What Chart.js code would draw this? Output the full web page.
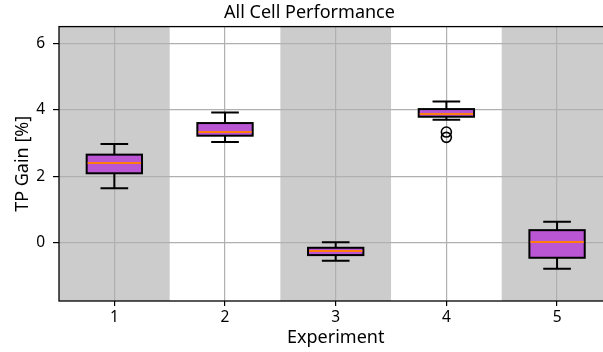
<!DOCTYPE html>
<html>
<head>
<meta charset="utf-8">
<script src="https://cdn.jsdelivr.net/npm/chart.js@4.4.0/dist/chart.umd.min.js"></script>
<style>
  html, body { margin: 0; padding: 0; background: #fff; overflow: hidden; }
  #wrap { width: 619px; height: 352px; }
</style>
</head>
<body>
<div id="wrap"><canvas id="myChart"></canvas></div>
<script>
// data
const experiments = ['1', '2', '3', '4', '5'];
const whiskerLow  = [1.64, 3.03, -0.54, 3.70, -0.78];
const q1          = [2.09, 3.22, -0.37, 3.79, -0.45];
const medians     = [2.39, 3.33, -0.24, 3.88, 0.03];
const q3          = [2.65, 3.60, -0.15, 4.02, 0.38];
const whiskerHigh = [2.97, 3.92, 0.02, 4.25, 0.63];
const outlierExp  = ['4', '4'];
const outlierVals = [3.33, 3.17];
const yTicks = [0, 2, 4, 6];
const shaded = ['1', '3', '5'];

const fontFam = '"Noto Sans", "Open Sans", sans-serif';

const boxDecor = {
    id: 'boxDecor',
    beforeDraw(chart) {
        // alternating grey column bands
        const { ctx, chartArea, scales } = chart;
        ctx.save();
        ctx.fillStyle = '#cccccc';
        shaded.forEach(lab => {
            const i = experiments.indexOf(lab);
            const x0 = scales.x.getPixelForValue(i - 0.5);
            const x1 = scales.x.getPixelForValue(i + 0.5);
            ctx.fillRect(x0, chartArea.top, x1 - x0, chartArea.bottom - chartArea.top);
        });
        ctx.restore();
    },
    beforeDatasetsDraw(chart) {
        // whiskers + caps
        const { ctx, scales } = chart;
        const bars = chart.getDatasetMeta(0).data;
        ctx.save();
        ctx.strokeStyle = '#000';
        ctx.lineWidth = 2;
        bars.forEach((bar, i) => {
            const half = bar.width / 4;
            const yLo = scales.y.getPixelForValue(whiskerLow[i]);
            const yQ1 = scales.y.getPixelForValue(q1[i]);
            const yQ3 = scales.y.getPixelForValue(q3[i]);
            const yHi = scales.y.getPixelForValue(whiskerHigh[i]);
            ctx.beginPath();
            ctx.moveTo(bar.x, yQ1); ctx.lineTo(bar.x, yLo);
            ctx.moveTo(bar.x, yQ3); ctx.lineTo(bar.x, yHi);
            ctx.moveTo(bar.x - half, yLo); ctx.lineTo(bar.x + half, yLo);
            ctx.moveTo(bar.x - half, yHi); ctx.lineTo(bar.x + half, yHi);
            ctx.stroke();
        });
        ctx.restore();
    },
    afterDatasetsDraw(chart) {
        // box outline centred on the quartile edges, then the median
        const { ctx, scales } = chart;
        const bars = chart.getDatasetMeta(0).data;
        ctx.save();
        bars.forEach((bar, i) => {
            const yQ1 = scales.y.getPixelForValue(q1[i]);
            const yQ3 = scales.y.getPixelForValue(q3[i]);
            const yMed = Math.round(scales.y.getPixelForValue(medians[i]));
            const x0 = bar.x - bar.width / 2;
            ctx.strokeStyle = '#000';
            ctx.lineWidth = 2;
            ctx.strokeRect(x0, yQ3, bar.width, yQ1 - yQ3);
            ctx.strokeStyle = '#ff7f0e';
            ctx.lineWidth = 2;
            ctx.beginPath();
            ctx.moveTo(x0 + 1, yMed);
            ctx.lineTo(x0 + bar.width - 1, yMed);
            ctx.stroke();
        });
        ctx.restore();
    },
    afterDraw(chart) {
        const { ctx, chartArea } = chart;
        ctx.save();
        ctx.strokeStyle = '#000';
        ctx.lineWidth = 1.3;
        ctx.strokeRect(chartArea.left, chartArea.top, chartArea.right - chartArea.left, chartArea.bottom - chartArea.top);
        ctx.restore();
    }
};

const ctx = document.getElementById('myChart').getContext('2d');
const chart = new Chart(ctx, {
    type: 'bar',
    data: {
        labels: experiments,
        datasets: [
            {
                label: 'boxes',
                data: experiments.map((e, i) => [q1[i], q3[i]]),
                backgroundColor: '#ba55d3',
                borderWidth: 0,
                barPercentage: 0.5,
                categoryPercentage: 1.0
            },
            {
                type: 'line',
                label: 'outliers',
                data: outlierExp.map((e, i) => ({ x: e, y: outlierVals[i] })),
                showLine: false,
                pointRadius: 5,
                pointBorderWidth: 1.6,
                pointBorderColor: '#000',
                pointBackgroundColor: 'rgba(0,0,0,0)'
            }
        ]
    },
    options: {
        responsive: true,
        maintainAspectRatio: false,
        animation: false,
        layout: { padding: 0 },
        plugins: {
            legend: { display: false },
            tooltip: { enabled: false },
            title: {
                display: true,
                text: 'All Cell Performance',
                color: '#000',
                font: { family: fontFam, size: 18, weight: 'normal' },
                padding: { top: 2, bottom: 3 }
            }
        },
        scales: {
            x: {
                offset: true,
                grid: { offset: false, color: '#b0b0b0', lineWidth: 1.2, tickColor: '#000', tickLength: 5 },
                border: { display: false },
                ticks: { color: '#000', padding: 2, font: { family: fontFam, size: 15.5 } },
                title: { display: true, text: 'Experiment', color: '#000', font: { family: fontFam, size: 18 }, padding: { top: 0, bottom: 3 } },
                afterFit(scale) { scale.height = 51; }
            },
            y: {
                min: -1.75,
                max: 6.5,
                afterBuildTicks(scale) { scale.ticks = yTicks.map(v => ({ value: v })); },
                grid: { color: '#b0b0b0', lineWidth: 1.2, tickColor: '#000', tickLength: 6 },
                border: { display: false },
                ticks: { color: '#000', padding: 8, font: { family: fontFam, size: 15.5 } },
                title: { display: true, text: 'TP Gain [%]', color: '#000', font: { family: fontFam, size: 18 }, padding: 12 },
                afterFit(scale) { scale.width = 59; }
            }
        }
    },
    plugins: [boxDecor]
});
</script>
</body>
</html>
